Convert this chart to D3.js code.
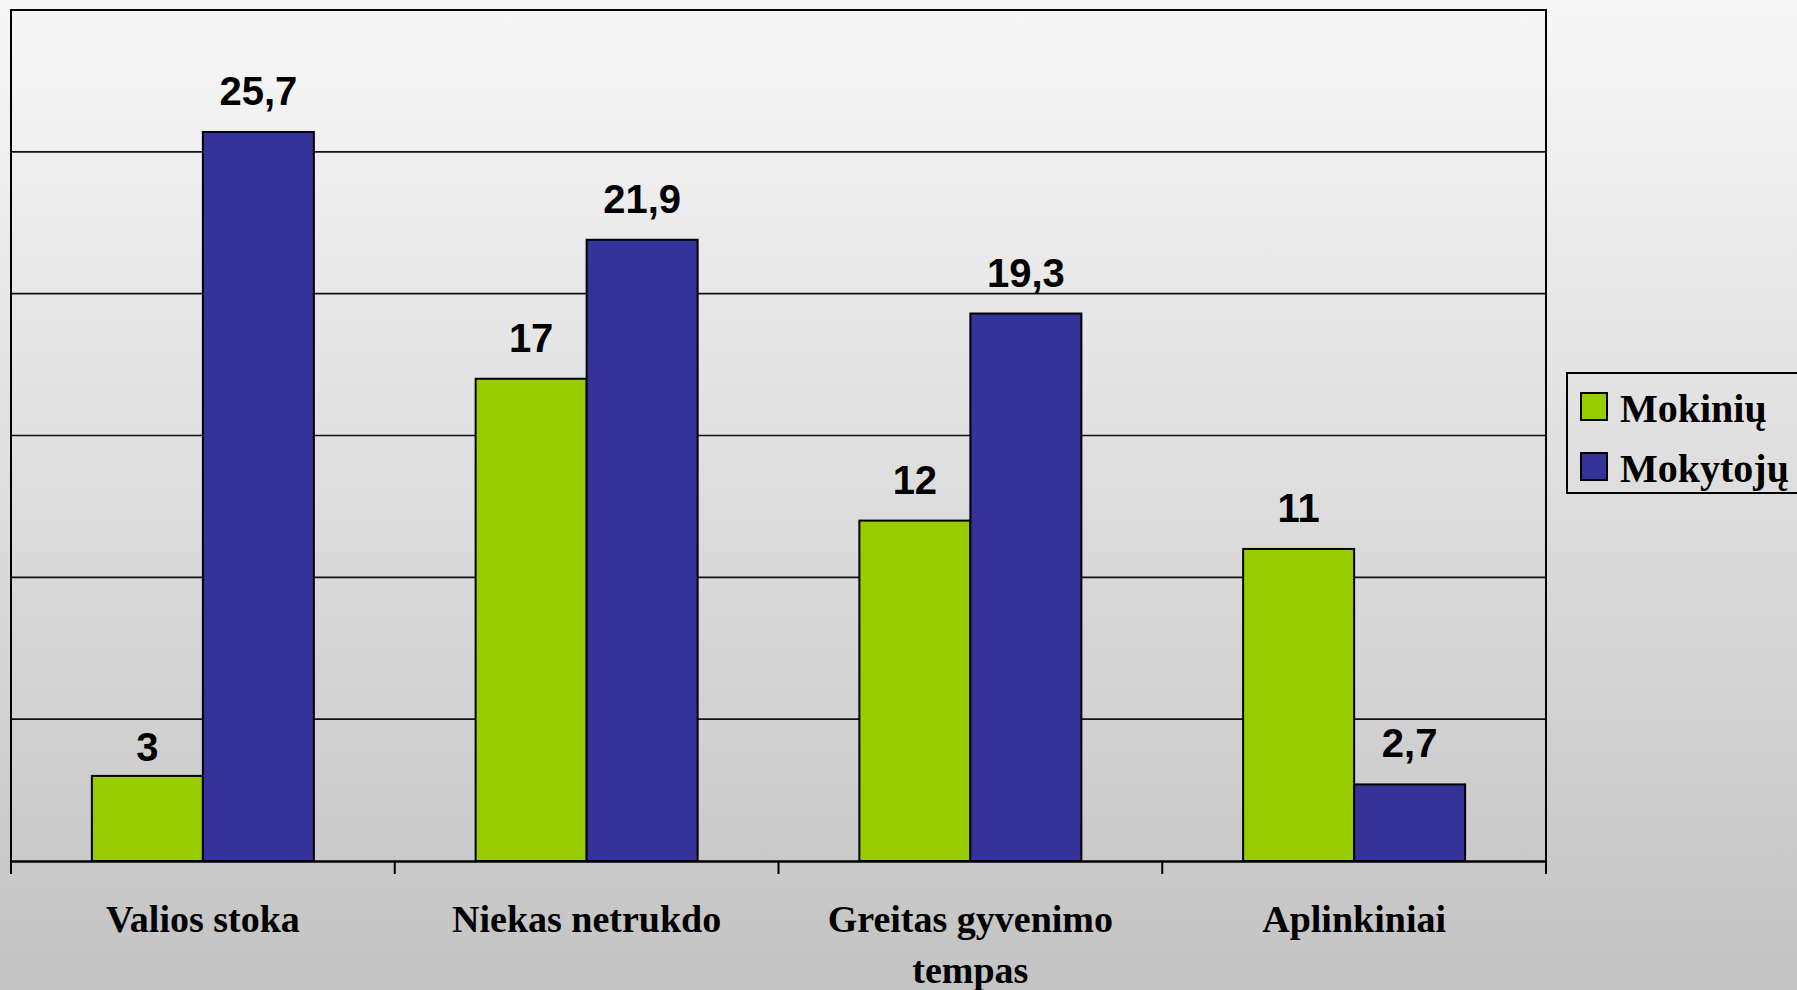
<!DOCTYPE html>
<html><head><meta charset="utf-8">
<script src="https://cdn.jsdelivr.net/npm/d3@7"></script>
<style>html,body{margin:0;padding:0;overflow:hidden;}svg{display:block;}</style>
</head><body>
<script>
const categories = [["Valios stoka"], ["Niekas netrukdo"], ["Greitas gyvenimo", "tempas"], ["Aplinkiniai"]];
const seriesNames = ["Mokinių", "Mokytojų"];
const mokiniu = [3, 17, 12, 11];
const mokytoju = [25.7, 21.9, 19.3, 2.7];
const valueLabels = [["3", "17", "12", "11"], ["25,7", "21,9", "19,3", "2,7"]];
const yTicks = [0, 5, 10, 15, 20, 25, 30];
const colors = ["#99cc00", "#333399"];

const W = 1797, H = 990;
const svg = d3.select("body").append("svg").attr("width", W).attr("height", H);
const defs = svg.append("defs");
const g = defs.append("linearGradient").attr("id", "bg").attr("x1", 0).attr("y1", 0).attr("x2", 0).attr("y2", 1);
g.append("stop").attr("offset", "0%").attr("stop-color", "#f7f7f7");
g.append("stop").attr("offset", "100%").attr("stop-color", "#c3c3c3");
svg.append("rect").attr("width", W).attr("height", H).attr("fill", "url(#bg)");

const pLeft = 11, pRight = 1546, pTop = 10, pBottom = 861;
const x0 = d3.scaleBand().domain(d3.range(categories.length)).range([pLeft, pRight]).paddingInner(0).paddingOuter(0);
const barW = 111;
const y = d3.scaleLinear().domain([0, 30]).range([pBottom, pTop]);

// gridlines
svg.append("g").selectAll("line").data(yTicks.slice(1, -1)).join("line")
  .attr("x1", pLeft).attr("x2", pRight).attr("y1", d => y(d)).attr("y2", d => y(d))
  .attr("stroke", "#111").attr("stroke-width", 1.6);

// plot frame (top, left, right)
svg.append("path").attr("d", `M${pLeft},${pBottom}V${pTop}H${pRight}V${pBottom}`)
  .attr("fill", "none").attr("stroke", "#000").attr("stroke-width", 2);

// label placement: above bar, nudged closer if it would touch a gridline
function labelY(v) {
  const base = y(v) - 27, topEdge = base - 30;
  const hits = yTicks.some(t => Math.abs(y(t) - topEdge) < 4);
  return hits ? y(v) - 15 : base;
}

const series = [mokiniu, mokytoju];
series.forEach((vals, si) => {
  svg.append("g").selectAll("rect").data(vals).join("rect")
    .attr("x", (d, i) => x0(i) + x0.bandwidth() / 2 - barW + si * barW)
    .attr("y", d => y(d))
    .attr("width", barW)
    .attr("height", d => pBottom - y(d))
    .attr("fill", colors[si]).attr("stroke", "#000").attr("stroke-width", 2);
  svg.append("g").selectAll("text").data(vals).join("text")
    .attr("x", (d, i) => x0(i) + x0.bandwidth() / 2 - barW / 2 + si * barW)
    .attr("y", d => labelY(d))
    .attr("text-anchor", "middle")
    .attr("font-family", "Liberation Sans, Arial, sans-serif")
    .attr("font-weight", "bold").attr("font-size", 40).attr("fill", "#000")
    .text((d, i) => valueLabels[si][i]);
});

// x axis
const xAxis = d3.axisBottom(x0).tickSize(0).tickFormat("");
const ax = svg.append("g").attr("transform", `translate(0,${pBottom})`).call(xAxis);
ax.select(".domain").attr("stroke", "#000").attr("stroke-width", 2.5);
const boundaries = d3.range(categories.length + 1).map(i => pLeft + i * x0.bandwidth());
svg.append("g").selectAll("line").data(boundaries).join("line")
  .attr("x1", d => d).attr("x2", d => d).attr("y1", pBottom).attr("y2", pBottom + 13)
  .attr("stroke", "#000").attr("stroke-width", 2);

const labels = svg.append("g").selectAll("text").data(categories).join("text")
  .attr("x", (d, i) => x0(i) + x0.bandwidth() / 2)
  .attr("y", 932)
  .attr("text-anchor", "middle")
  .attr("font-family", "Liberation Serif, Times New Roman, serif")
  .attr("font-weight", "bold").attr("font-size", 38).attr("fill", "#000");
labels.each(function(d) {
  const t = d3.select(this);
  d.forEach((line, li) => {
    t.append("tspan").attr("x", t.attr("x")).attr("dy", li === 0 ? 0 : 51).text(line);
  });
});

// legend
const lg = svg.append("g");
lg.append("rect").attr("x", 1567).attr("y", 373).attr("width", 260).attr("height", 120)
  .attr("fill", "none").attr("stroke", "#000").attr("stroke-width", 2);
seriesNames.forEach((name, i) => {
  lg.append("rect").attr("x", 1581).attr("y", 393 + i * 60).attr("width", 26).attr("height", 27)
    .attr("fill", colors[i]).attr("stroke", "#000").attr("stroke-width", 2);
  lg.append("text").attr("x", 1620).attr("y", 422 + i * 60)
    .attr("font-family", "Liberation Serif, Times New Roman, serif")
    .attr("font-weight", "bold").attr("font-size", 40).attr("fill", "#000").text(name);
});
</script>
</body></html>
